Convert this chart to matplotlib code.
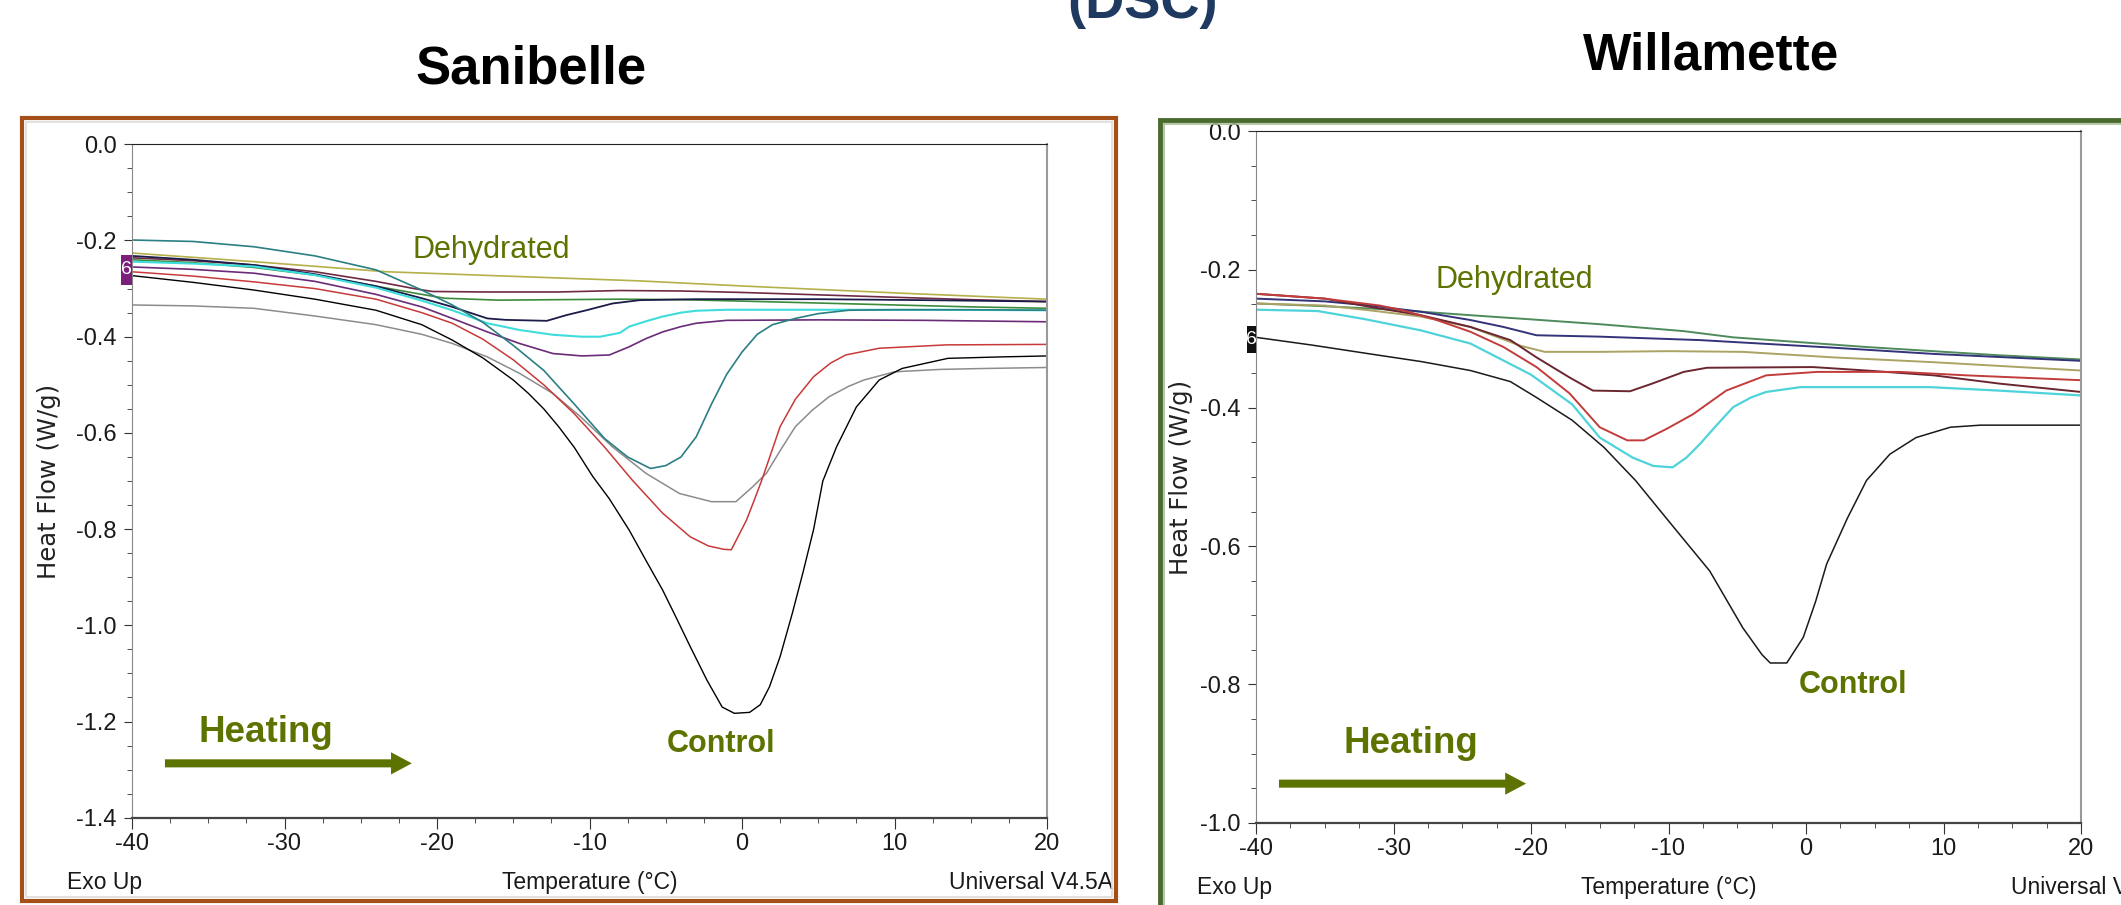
import matplotlib
matplotlib.use("Agg")
import matplotlib.pyplot as plt
from matplotlib.patches import Rectangle, FancyArrowPatch
from matplotlib.ticker import MultipleLocator, FormatStrFormatter
from matplotlib.transforms import blended_transform_factory

W, H = 2121, 905

# -- Sanibelle (left) DSC curves: temperature (°C) / heat flow (W/g) --
SAN_TEAL_T = [-40, -36, -32, -28, -24, -21, -19, -17, -15, -13, -11, -9, -7.5, -6, -5, -4, -3, -2, -1, 0, 1, 2, 3.5, 5, 7, 10, 15, 20]
SAN_TEAL_HF = [-0.199, -0.202, -0.213, -0.232, -0.261, -0.303, -0.334, -0.370, -0.418, -0.470, -0.540, -0.612, -0.650, -0.674, -0.668, -0.650, -0.608, -0.540, -0.478, -0.432, -0.395, -0.375, -0.362, -0.352, -0.345, -0.344, -0.344, -0.345]

SAN_CTRL_T = [-40, -36, -32, -28, -24, -21, -19, -17, -15, -14, -13, -12, -11, -9.8, -8.7, -7.4, -6.3, -5.2, -4.3, -3.4, -2.3, -1.3, -0.5, 0.5, 1.2, 1.8, 2.5, 3.3, 4, 4.7, 5.3, 6.2, 7.5, 9, 10.5, 13.5, 17, 20]
SAN_CTRL_HF = [-0.273, -0.287, -0.303, -0.322, -0.345, -0.375, -0.407, -0.444, -0.490, -0.518, -0.550, -0.588, -0.630, -0.690, -0.737, -0.802, -0.865, -0.927, -0.985, -1.044, -1.114, -1.170, -1.183, -1.181, -1.165, -1.128, -1.065, -0.975, -0.890, -0.800, -0.700, -0.629, -0.546, -0.490, -0.466, -0.445, -0.442, -0.440]

SAN_RED_T = [-40, -36, -32, -28, -24, -21, -19, -17, -15, -13, -11, -9, -7.2, -5.2, -3.4, -2.2, -1.2, -0.7, 0.3, 0.8, 1.3, 2.5, 3.5, 4.7, 5.8, 6.8, 9, 13.4, 20]
SAN_RED_HF = [-0.265, -0.274, -0.286, -0.300, -0.322, -0.350, -0.372, -0.405, -0.448, -0.500, -0.560, -0.630, -0.698, -0.767, -0.816, -0.835, -0.842, -0.843, -0.781, -0.740, -0.698, -0.587, -0.530, -0.483, -0.455, -0.438, -0.424, -0.417, -0.416]

SAN_GRAY_T = [-40, -36, -32, -28, -24, -21, -19, -16.7, -14.6, -12.4, -10.6, -8.5, -6.3, -4.1, -2, -0.4, 0.7, 1.6, 2.5, 3.5, 4.6, 5.7, 7, 8, 10, 13, 16, 20]
SAN_GRAY_HF = [-0.334, -0.336, -0.341, -0.357, -0.375, -0.395, -0.414, -0.442, -0.476, -0.518, -0.566, -0.629, -0.684, -0.726, -0.743, -0.743, -0.712, -0.684, -0.637, -0.587, -0.553, -0.525, -0.503, -0.490, -0.473, -0.468, -0.466, -0.464]

SAN_CYAN_T = [-40, -36, -32, -28, -24, -21, -19, -16.7, -14.6, -12.4, -10.5, -9.3, -8, -7.4, -6.3, -5.2, -4, -3, -1, 5, 12, 20]
SAN_CYAN_HF = [-0.244, -0.248, -0.254, -0.272, -0.298, -0.325, -0.345, -0.372, -0.386, -0.396, -0.400, -0.400, -0.392, -0.379, -0.368, -0.358, -0.350, -0.346, -0.344, -0.344, -0.344, -0.345]

SAN_PURPLE_T = [-40, -36, -32, -28, -24, -21, -19, -16.7, -14.6, -12.4, -10.5, -8.7, -7.4, -6.3, -5.2, -4, -3, -1, 5, 12, 20]
SAN_PURPLE_HF = [-0.255, -0.260, -0.268, -0.285, -0.312, -0.338, -0.362, -0.390, -0.414, -0.435, -0.440, -0.438, -0.421, -0.404, -0.390, -0.379, -0.372, -0.366, -0.365, -0.366, -0.369]

SAN_NAVY_T = [-40, -36, -32, -28, -24, -21, -19, -16.7, -15.5, -12.8, -11.5, -10.2, -8.5, -6.7, -3, 5, 12, 20]
SAN_NAVY_HF = [-0.232, -0.240, -0.251, -0.270, -0.295, -0.320, -0.338, -0.362, -0.365, -0.367, -0.355, -0.345, -0.331, -0.324, -0.322, -0.322, -0.324, -0.327]

SAN_MAROON_T = [-40, -36, -32, -28, -24, -21.5, -20.3, -17, -12, -8, -4, 0, 5, 10, 15, 20]
SAN_MAROON_HF = [-0.236, -0.242, -0.251, -0.265, -0.285, -0.300, -0.306, -0.307, -0.307, -0.304, -0.305, -0.308, -0.313, -0.318, -0.323, -0.327]

SAN_GREEN_T = [-40, -36, -32, -28, -24, -21, -19.5, -16, -12, -8, -4, 0, 5, 10, 15, 20]
SAN_GREEN_HF = [-0.240, -0.246, -0.256, -0.272, -0.295, -0.312, -0.320, -0.324, -0.323, -0.322, -0.323, -0.326, -0.330, -0.334, -0.338, -0.341]

SAN_DEHY_T = [-40, -32, -23.3, -14.6, -6.7, 0.3, 10.8, 20]
SAN_DEHY_HF = [-0.226, -0.244, -0.265, -0.275, -0.284, -0.295, -0.310, -0.322]

# -- Willamette (right) DSC curves --
WIL_CTRL_T = [-40, -36, -31.7, -28, -24.4, -21.5, -19.6, -17, -14.7, -12.4, -10.1, -9.4, -7, -4.6, -3.2, -2.6, -1.4, -0.2, 0.7, 1.5, 3, 4.4, 6.1, 8, 10.5, 12.7, 20]
WIL_CTRL_HF = [-0.298, -0.309, -0.322, -0.333, -0.346, -0.362, -0.385, -0.418, -0.457, -0.505, -0.561, -0.578, -0.636, -0.718, -0.757, -0.769, -0.769, -0.732, -0.680, -0.626, -0.560, -0.505, -0.467, -0.443, -0.428, -0.425, -0.425]

WIL_CYAN_T = [-40, -35.5, -32, -28, -24.4, -20, -17, -15, -12.6, -11.1, -9.7, -8.7, -7.7, -6.5, -5.3, -4, -2.9, -0.4, 9, 14, 20]
WIL_CYAN_HF = [-0.258, -0.260, -0.272, -0.288, -0.307, -0.352, -0.395, -0.443, -0.472, -0.484, -0.486, -0.472, -0.452, -0.425, -0.399, -0.385, -0.377, -0.370, -0.370, -0.375, -0.382]

WIL_RED_T = [-40, -35, -31, -29.3, -27, -24.4, -22, -19.6, -17.2, -15, -13, -11.8, -10.1, -8.2, -5.8, -2.9, 0.8, 6.8, 11.7, 20]
WIL_RED_HF = [-0.235, -0.242, -0.252, -0.259, -0.272, -0.290, -0.312, -0.341, -0.379, -0.428, -0.447, -0.447, -0.430, -0.409, -0.375, -0.353, -0.348, -0.348, -0.353, -0.360]

WIL_MAROON_T = [-40, -35, -31.7, -28, -24.4, -21.5, -19.6, -17.2, -15.5, -12.8, -11.2, -8.9, -7.2, 0.5, 4.4, 9.3, 14.1, 20]
WIL_MAROON_HF = [-0.235, -0.242, -0.254, -0.266, -0.283, -0.302, -0.327, -0.356, -0.375, -0.376, -0.365, -0.348, -0.342, -0.341, -0.346, -0.353, -0.365, -0.377]

WIL_OLIVE_T = [-40, -35, -31.7, -28, -24.4, -20.8, -19, -15, -10, -4.6, 2, 9.3, 20]
WIL_OLIVE_HF = [-0.249, -0.252, -0.259, -0.268, -0.283, -0.310, -0.319, -0.319, -0.318, -0.319, -0.327, -0.334, -0.346]

WIL_NAVY_T = [-40, -35, -31.7, -28, -24.4, -22, -19.6, -15, -7.7, 2, 9.3, 20]
WIL_NAVY_HF = [-0.242, -0.246, -0.252, -0.261, -0.273, -0.283, -0.295, -0.297, -0.302, -0.313, -0.322, -0.332]

WIL_GREEN_T = [-40, -35, -30, -24.4, -20, -15, -8.9, -5.3, 4.4, 14.1, 20]
WIL_GREEN_HF = [-0.249, -0.253, -0.258, -0.266, -0.272, -0.279, -0.289, -0.298, -0.312, -0.324, -0.330]

X_TICKS = [-40, -30, -20, -10, 0, 10, 20]
SAN_YLIM = (-1.4, 0.0)
WIL_YLIM = (-1.0, 0.0)

OLIVE = "#5c7300"
NARROW = ["Liberation Sans Narrow", "Liberation Sans", "DejaVu Sans"]

plt.rcParams["font.family"] = NARROW
plt.rcParams["axes.unicode_minus"] = False

fig = plt.figure(figsize=(W / 100, H / 100), dpi=100)


def fig_box(x0, y0, x1, y1):
    # pixel box (top-left origin) -> figure fraction rect
    return [x0 / W, 1 - y1 / H, (x1 - x0) / W, (y1 - y0) / H]


def style_dsc(ax, ylim, label_y):
    ax.set_xlim(-40, 20)
    ax.set_ylim(*ylim)
    ax.set_xticks(X_TICKS)
    ax.xaxis.set_minor_locator(MultipleLocator(2.5))
    ax.yaxis.set_major_locator(MultipleLocator(0.2))
    ax.yaxis.set_minor_locator(MultipleLocator(0.05))
    ax.yaxis.set_major_formatter(FormatStrFormatter("%.1f"))
    ax.tick_params(which="both", direction="out", colors="#333", labelsize=17)
    ax.tick_params(axis="y", which="major", length=6, pad=5)
    ax.tick_params(axis="x", which="major", length=8, pad=3)
    ax.tick_params(which="minor", length=3.5)
    ax.tick_params(axis="both", labelcolor="#1a1a1a")
    ax.spines["top"].set_color("#222")
    ax.spines["bottom"].set_color("#444")
    ax.spines["bottom"].set_linewidth(1.6)
    ax.spines["left"].set_color("#888")
    ax.spines["right"].set_color("#999")
    ax.spines["right"].set_linewidth(1.5)
    ax.text(-0.0907, 0.5, "Heat Flow (W/g)", transform=ax.transAxes, rotation=90,
            ha="center", va="center", fontsize=17.5, family="DejaVu Sans", color="#222")
    ax.text(-0.071, label_y, "Exo Up", transform=ax.transAxes, ha="left", va="center",
            fontsize=16.5, color="#1a1a1a")
    ax.text(0.5, label_y, "Temperature (°C)", transform=ax.transAxes, ha="center",
            va="center", fontsize=16.5, color="#1a1a1a")


def marker_six(ax, x_w, y0, h, color):
    tr = blended_transform_factory(ax.transAxes, ax.transData)
    ax.add_patch(Rectangle((-x_w, y0), x_w, h, transform=tr, fc=color, ec="none",
                           clip_on=False, zorder=10))
    ax.text(-x_w / 2, y0 + h / 2, "6", transform=tr, color="white", ha="center",
            va="center", fontsize=14, zorder=11, clip_on=False)


def heating_arrow(ax, t0, t1, hf):
    arr = FancyArrowPatch((t0, hf), (t1, hf), arrowstyle="simple,head_length=15,head_width=16,tail_width=5.8",
                          mutation_scale=1, color=OLIVE, shrinkA=0, shrinkB=0, lw=0)
    ax.add_patch(arr)


# ---------------- Sanibelle ----------------
ax_l = fig.add_axes(fig_box(132, 144.3, 1047, 817.7))
san_curves = [
    (SAN_DEHY_T, SAN_DEHY_HF, "#b5b04a", 1.2),
    (SAN_MAROON_T, SAN_MAROON_HF, "#6e2a45", 1.2),
    (SAN_GREEN_T, SAN_GREEN_HF, "#3c8a3c", 1.2),
    (SAN_NAVY_T, SAN_NAVY_HF, "#1c1c4a", 1.3),
    (SAN_PURPLE_T, SAN_PURPLE_HF, "#6a2c78", 1.2),
    (SAN_CYAN_T, SAN_CYAN_HF, "#3fdcdc", 1.5),
    (SAN_GRAY_T, SAN_GRAY_HF, "#8c8c8c", 1.1),
    (SAN_RED_T, SAN_RED_HF, "#c83a3a", 1.1),
    (SAN_TEAL_T, SAN_TEAL_HF, "#2b7f82", 1.2),
    (SAN_CTRL_T, SAN_CTRL_HF, "#000000", 1.0),
]
for t, hf, c, lw in san_curves:
    ax_l.plot(t, hf, color=c, lw=lw)
style_dsc(ax_l, SAN_YLIM, -0.0955)
ax_l.text(1.0721, -0.0955, "Universal V4.5A", transform=ax_l.transAxes, ha="right",
          va="center", fontsize=16.5, color="#1a1a1a")
marker_six(ax_l, 0.0124, -0.292, 0.062, "#7b1f7b")
ax_l.text(-21.6, -0.2364, "Dehydrated", color=OLIVE, fontsize=22, family="Liberation Sans",
          ha="left", va="baseline")
ax_l.text(-1.4, -1.263, "Control", color=OLIVE, fontsize=22, family="Liberation Sans",
          fontweight="bold", ha="center", va="baseline")
ax_l.text(-35.64, -1.242, "Heating", color=OLIVE, fontsize=26.5, family="Liberation Sans",
          fontweight="bold", ha="left", va="baseline")
heating_arrow(ax_l, -37.84, -21.65, -1.287)

# ---------------- Willamette ----------------
ax_r = fig.add_axes(fig_box(1256, 131.3, 2081, 822.7))
wil_curves = [
    (WIL_GREEN_T, WIL_GREEN_HF, "#4f8a5c", 1.4),
    (WIL_NAVY_T, WIL_NAVY_HF, "#33337a", 1.4),
    (WIL_OLIVE_T, WIL_OLIVE_HF, "#aaa363", 1.4),
    (WIL_MAROON_T, WIL_MAROON_HF, "#6b2630", 1.4),
    (WIL_RED_T, WIL_RED_HF, "#c23c3c", 1.4),
    (WIL_CYAN_T, WIL_CYAN_HF, "#4fd3da", 1.6),
    (WIL_CTRL_T, WIL_CTRL_HF, "#1a1a1a", 1.1),
]
for t, hf, c, lw in wil_curves:
    ax_r.plot(t, hf, color=c, lw=lw)
style_dsc(ax_r, WIL_YLIM, -0.093)
ax_r.text(0.915, -0.093, "Universal V4.5A", transform=ax_r.transAxes, ha="left",
          va="center", fontsize=16.5, color="#1a1a1a")
marker_six(ax_r, 0.0113, -0.321, 0.040, "#111111")
ax_r.text(-26.98, -0.227, "Dehydrated", color=OLIVE, fontsize=22, family="Liberation Sans",
          ha="left", va="baseline")
ax_r.text(3.45, -0.812, "Control", color=OLIVE, fontsize=22, family="Liberation Sans",
          fontweight="bold", ha="center", va="baseline")
ax_r.text(-33.6, -0.8996, "Heating", color=OLIVE, fontsize=26.5, family="Liberation Sans",
          fontweight="bold", ha="left", va="baseline")
heating_arrow(ax_r, -38.33, -20.36, -0.9435)

# ---------------- frames & titles ----------------
def frame(x0, y0, x1, y1, color, lw, inner=None):
    b = fig_box(x0, y0, x1, y1)
    fig.add_artist(Rectangle((b[0], b[1]), b[2], b[3], transform=fig.transFigure,
                             fill=False, ec=color, lw=lw, zorder=20))
    if inner:
        b = fig_box(x0 + 4, y0 + 4, x1 - 4, y1 - 4)
        fig.add_artist(Rectangle((b[0], b[1]), b[2], b[3], transform=fig.transFigure,
                                 fill=False, ec=inner, lw=1.2, zorder=20))


frame(22, 118, 1116, 901, "#a54f18", 3.0, inner="#dcdcdc")
frame(1160, 120, 2150, 940, "#4b6a2e", 3.5, inner="#a9bd98")

fig.text(531 / W, 1 - 84 / H, "Sanibelle", family="Liberation Sans", fontweight="bold",
         fontsize=38, ha="center", va="baseline", color="black")
fig.text(1711 / W, 1 - 70 / H, "Willamette", family="Liberation Sans", fontweight="bold",
         fontsize=37, ha="center", va="baseline", color="black")
fig.text(1143 / W, 1 - 18 / H, "(DSC)", family="Liberation Sans", fontweight="bold",
         fontsize=39, ha="center", va="baseline", color="#1f3a60")

fig.savefig("out.png", dpi=100)
